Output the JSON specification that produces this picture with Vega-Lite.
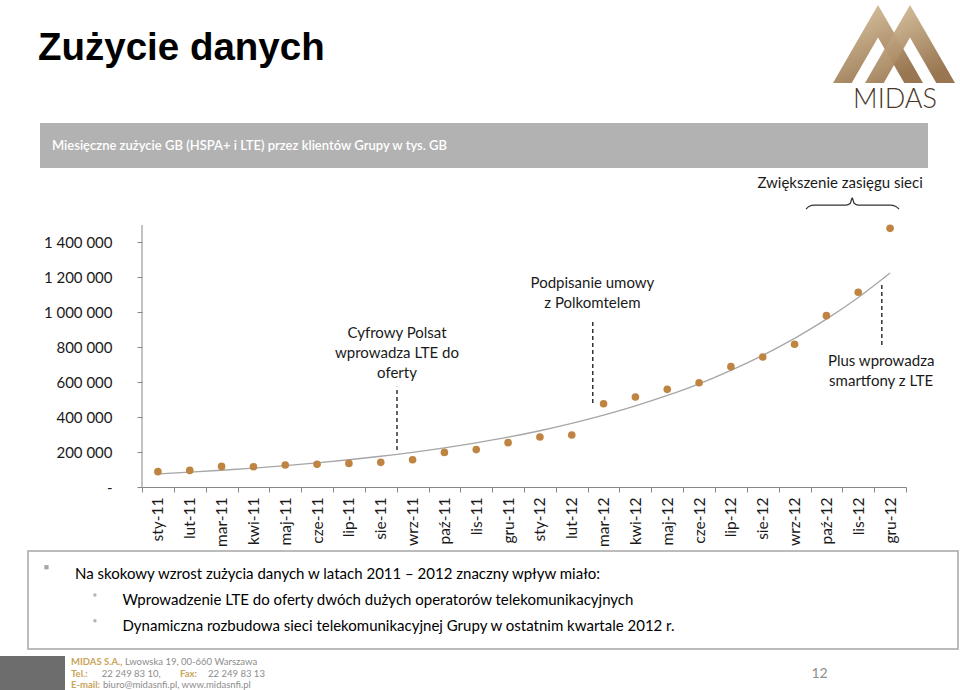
{
  "$schema": "https://vega.github.io/schema/vega-lite/v6.json",
  "padding": 0,
  "autosize": {"type": "pad"},
  "background": "white",
  "spacing": 0,
  "config": {
    "view": {"stroke": null},
    "font": "Lato",
    "locale": {"number": {"decimal": ",", "thousands": " ", "grouping": [3], "currency": ["", " zł"]}}
  },
  "vconcat": [
    {
      "hconcat": [
        {
          "width": 833, "height": 123,
          "view": {"fill": "white"},
          "data": {"values": [{"t": "Zużycie danych", "x": 0, "y": 0}]},
          "mark": {"type": "text", "align": "left", "baseline": "alphabetic", "font": "Liberation Sans", "fontWeight": "bold", "fontSize": 38.5, "color": "#000000", "dx": 38, "dy": -63},
          "encoding": {
            "x": {"field": "x", "type": "quantitative", "scale": {"domain": [0, 1], "nice": false}, "axis": null},
            "y": {"field": "y", "type": "quantitative", "scale": {"domain": [0, 1], "nice": false}, "axis": null},
            "text": {"field": "t"}
          }
        },
        {
          "width": 127, "height": 123,
          "view": {"fill": "white"},
          "layer": [
            {
              "data": {"values": [
                {"s": 1, "x": 0, "yt": 83, "yb": 83},
                {"s": 1, "x": 18.7, "yt": 50.6, "yb": 83},
                {"s": 1, "x": 45, "yt": 5, "yb": 37.4},
                {"s": 1, "x": 71.3, "yt": 50.6, "yb": 83},
                {"s": 1, "x": 90, "yt": 83, "yb": 83},
                {"s": 2, "x": 32, "yt": 83, "yb": 83},
                {"s": 2, "x": 50.7, "yt": 50.6, "yb": 83},
                {"s": 2, "x": 77, "yt": 5, "yb": 37.4},
                {"s": 2, "x": 103.3, "yt": 50.6, "yb": 83},
                {"s": 2, "x": 122, "yt": 83, "yb": 83}
              ]},
              "mark": {"type": "area", "opacity": 0.95, "color": {"gradient": "linear", "x1": 0, "y1": 0, "x2": 0.6, "y2": 1, "stops": [{"offset": 0, "color": "#e0cba8"}, {"offset": 1, "color": "#936f48"}]}},
              "encoding": {
                "x": {"field": "x", "type": "quantitative", "scale": {"domain": [0, 127], "nice": false, "zero": false}, "axis": null},
                "y": {"field": "yt", "type": "quantitative", "scale": {"domain": [0, 123], "reverse": true, "nice": false}, "axis": null},
                "y2": {"field": "yb"},
                "detail": {"field": "s"}
              }
            },
            {
              "data": {"values": [{"t": "MIDAS", "x": 62, "y": 108}]},
              "mark": {"type": "text", "align": "center", "baseline": "alphabetic", "font": "Lato", "fontWeight": 300, "fontSize": 27, "color": "#4a3527"},
              "encoding": {
                "x": {"field": "x", "type": "quantitative", "scale": {"domain": [0, 127], "nice": false, "zero": false}, "axis": null},
                "y": {"field": "y", "type": "quantitative", "scale": {"domain": [0, 123], "reverse": true, "nice": false}, "axis": null},
                "text": {"field": "t"}
              }
            }
          ]
        }
      ],
      "spacing": 0,
      "bounds": "flush"
    },
    {
      "hconcat": [
        {"width": 40, "height": 45, "view": {"fill": "white"}, "data": {"values": []}, "mark": "point"},
        {
          "width": 888, "height": 45,
          "view": {"fill": "#b2b2b2"},
          "data": {"values": [{"t": "Miesięczne zużycie GB (HSPA+ i LTE) przez klientów Grupy w tys. GB", "x": 0, "y": 0.5}]},
          "mark": {"type": "text", "align": "left", "baseline": "middle", "dx": 12, "fontSize": 13, "font": "Lato", "fontWeight": 600, "color": "#ffffff"},
          "encoding": {
            "x": {"field": "x", "type": "quantitative", "scale": {"domain": [0, 1], "nice": false}, "axis": null},
            "y": {"field": "y", "type": "quantitative", "scale": {"domain": [0, 1], "nice": false}, "axis": null},
            "text": {"field": "t"}
          }
        }
      ],
      "spacing": 0,
      "bounds": "flush"
    },
    {
      "hconcat": [
        {"width": 142, "height": 382, "view": {"fill": "white"}, "data": {"values": []}, "mark": "point"},
        {
          "width": 764, "height": 319,
          "layer": [
            {
              "data": {"values": [
                {"m": "sty-11", "v": 88000, "t": 75000},
                {"m": "lut-11", "v": 95000, "t": 85000},
                {"m": "mar-11", "v": 118000, "t": 96000},
                {"m": "kwi-11", "v": 116000, "t": 108000},
                {"m": "maj-11", "v": 126000, "t": 122000},
                {"m": "cze-11", "v": 130000, "t": 138000},
                {"m": "lip-11", "v": 135000, "t": 156000},
                {"m": "sie-11", "v": 141000, "t": 176000},
                {"m": "wrz-11", "v": 156000, "t": 198000},
                {"m": "paź-11", "v": 198000, "t": 224000},
                {"m": "lis-11", "v": 214000, "t": 253000},
                {"m": "gru-11", "v": 254000, "t": 285000},
                {"m": "sty-12", "v": 286000, "t": 322000},
                {"m": "lut-12", "v": 298000, "t": 364000},
                {"m": "mar-12", "v": 477000, "t": 411000},
                {"m": "kwi-12", "v": 515000, "t": 464000},
                {"m": "maj-12", "v": 559000, "t": 524000},
                {"m": "cze-12", "v": 597000, "t": 591000},
                {"m": "lip-12", "v": 689000, "t": 668000},
                {"m": "sie-12", "v": 744000, "t": 754000},
                {"m": "wrz-12", "v": 817000, "t": 851000},
                {"m": "paź-12", "v": 981000, "t": 961000},
                {"m": "lis-12", "v": 1115000, "t": 1085000},
                {"m": "gru-12", "v": 1481000, "t": 1225000}
              ]},
              "layer": [
                {
                  "mark": {"type": "line", "color": "#a6a6a6", "strokeWidth": 1.3, "interpolate": "monotone"},
                  "encoding": {
                    "x": {"field": "m", "type": "nominal", "sort": null, "bandPosition": 0.5, "title": null,
                          "scale": {"type": "band", "paddingInner": 0, "paddingOuter": 0},
                          "axis": {"labelAngle": -90, "tickBand": "extent", "tickSize": 5, "labelPadding": 5, "labelFontSize": 15.5, "labelFont": "Lato", "labelColor": "#1a1a1a", "domainColor": "#868686", "tickColor": "#868686", "grid": false, "title": null}},
                    "y": {"field": "t", "type": "quantitative", "title": null,
                          "scale": {"domain": [0, 1826336], "nice": false},
                          "axis": {"values": [0, 200000, 400000, 600000, 800000, 1000000, 1200000, 1400000], "format": ",d", "labelExpr": "datum.value === 0 ? '-' : datum.label", "domain": false, "tickSize": 5, "labelPadding": 25, "grid": false, "labelFontSize": 15, "labelFont": "Lato", "labelColor": "#1a1a1a", "tickColor": "#868686", "title": null}}
                  }
                },
                {
                  "mark": {"type": "circle", "color": "#bf8442", "size": 58, "opacity": 1},
                  "encoding": {
                    "x": {"field": "m", "type": "nominal", "sort": null, "bandPosition": 0.5, "title": null,
                          "scale": {"type": "band", "paddingInner": 0, "paddingOuter": 0}},
                    "y": {"field": "v", "type": "quantitative", "title": null, "scale": {"domain": [0, 1826336], "nice": false}}
                  }
                }
              ]
            },
            {
              "data": {"values": [{"p": -0.5, "a": 0, "b": 1500000}]},
              "mark": {"type": "rule", "color": "#868686", "strokeWidth": 1},
              "encoding": {
                "x": {"field": "p", "type": "quantitative", "scale": {"domain": [-0.5, 23.5], "nice": false, "zero": false}, "axis": null},
                "y": {"field": "a", "type": "quantitative", "title": null, "scale": {"domain": [0, 1826336], "nice": false}},
                "y2": {"field": "b"}
              }
            },
            {
              "data": {"values": [
                {"p": 7.51, "a": 212000, "b": 574000},
                {"p": 13.66, "a": 481000, "b": 956000},
                {"p": 22.74, "a": 813000, "b": 1162000}
              ]},
              "mark": {"type": "rule", "color": "#333333", "strokeWidth": 1.5, "strokeDash": [4, 3]},
              "encoding": {
                "x": {"field": "p", "type": "quantitative", "scale": {"domain": [-0.5, 23.5], "nice": false, "zero": false}, "axis": null},
                "y": {"field": "a", "type": "quantitative", "title": null, "scale": {"domain": [0, 1826336], "nice": false}},
                "y2": {"field": "b"}
              }
            },
            {
              "data": {"values": [
                {"p": 7.51, "y": 881000, "t": ["Cyfrowy Polsat", "wprowadza LTE do", "oferty"]},
                {"p": 13.65, "y": 1167000, "t": ["Podpisanie umowy", "z Polkomtelem"]},
                {"p": 22.72, "y": 721000, "t": ["Plus wprowadza", "smartfony z LTE"]},
                {"p": 21.43, "y": 1740000, "t": ["Zwiększenie zasięgu sieci"]}
              ]},
              "mark": {"type": "text", "align": "center", "baseline": "middle", "fontSize": 15, "lineHeight": 19.7, "color": "#1a1a1a", "font": "Lato"},
              "encoding": {
                "x": {"field": "p", "type": "quantitative", "scale": {"domain": [-0.5, 23.5], "nice": false, "zero": false}, "axis": null},
                "y": {"field": "y", "type": "quantitative", "title": null, "scale": {"domain": [0, 1826336], "nice": false}},
                "text": {"field": "t"}
              }
            },
            {
              "data": {"values": [
                {"p": 20.36, "y": 1591000},
                {"p": 20.45, "y": 1606000},
                {"p": 20.62, "y": 1614000},
                {"p": 21.62, "y": 1614000},
                {"p": 21.75, "y": 1625000},
                {"p": 21.81, "y": 1655000},
                {"p": 21.87, "y": 1625000},
                {"p": 22.0, "y": 1614000},
                {"p": 23.0, "y": 1614000},
                {"p": 23.18, "y": 1606000},
                {"p": 23.28, "y": 1591000}
              ]},
              "mark": {"type": "line", "color": "#333333", "strokeWidth": 1.3, "interpolate": "monotone"},
              "encoding": {
                "x": {"field": "p", "type": "quantitative", "scale": {"domain": [-0.5, 23.5], "nice": false, "zero": false}, "axis": null},
                "y": {"field": "y", "type": "quantitative", "title": null, "scale": {"domain": [0, 1826336], "nice": false}}
              }
            }
          ],
          "resolve": {"scale": {"x": "independent"}}
        }
      ],
      "spacing": 0,
      "bounds": "flush"
    },
    {
      "hconcat": [
        {"width": 28, "height": 105, "view": {"fill": "white"}, "data": {"values": []}, "mark": "point"},
        {
          "width": 930, "height": 98,
          "view": {"fill": "white", "stroke": "#a6a6a6", "strokeWidth": 1.5},
          "layer": [
            {
              "data": {"values": [
                {"r": 1, "lvl": 0, "t": "Na skokowy wzrost zużycia danych w latach 2011 – 2012 znaczny wpływ miało:"},
                {"r": 2, "lvl": 1, "t": "Wprowadzenie LTE do oferty dwóch dużych operatorów telekomunikacyjnych"},
                {"r": 3, "lvl": 1, "t": "Dynamiczna rozbudowa sieci telekomunikacyjnej Grupy w ostatnim kwartale 2012 r."}
              ]},
              "mark": {"type": "text", "align": "left", "baseline": "middle", "fontSize": 15, "font": "Lato", "color": "#000000"},
              "encoding": {
                "x": {"field": "lvl", "type": "quantitative", "scale": {"domain": [-0.989, 18.59], "nice": false, "zero": false}, "axis": null},
                "y": {"field": "r", "type": "ordinal", "scale": {"type": "band", "paddingInner": 0, "paddingOuter": 0.4}, "axis": null},
                "text": {"field": "t"}
              }
            },
            {
              "data": {"values": [{"r": 1, "b": -0.6}]},
              "mark": {"type": "square", "color": "#a6a6a6", "size": 18, "opacity": 1, "filled": true, "yOffset": -7},
              "encoding": {
                "x": {"field": "b", "type": "quantitative", "scale": {"domain": [-0.989, 18.59], "nice": false, "zero": false}, "axis": null},
                "y": {"field": "r", "type": "ordinal", "scale": {"type": "band", "paddingInner": 0, "paddingOuter": 0.4}, "axis": null}
              }
            },
            {
              "data": {"values": [{"r": 2, "b": 0.42}, {"r": 3, "b": 0.42}]},
              "mark": {"type": "circle", "color": "#b3b3b3", "size": 12, "opacity": 1, "yOffset": -5},
              "encoding": {
                "x": {"field": "b", "type": "quantitative", "scale": {"domain": [-0.989, 18.59], "nice": false, "zero": false}, "axis": null},
                "y": {"field": "r", "type": "ordinal", "scale": {"type": "band", "paddingInner": 0, "paddingOuter": 0.4}, "axis": null}
              }
            }
          ]
        }
      ],
      "spacing": 0,
      "bounds": "flush"
    },
    {
      "hconcat": [
        {"width": 65, "height": 35, "view": {"fill": "#6d6d6d"}, "data": {"values": []}, "mark": "point"},
        {
          "width": 895, "height": 35,
          "view": {"fill": "white"},
          "layer": [
            {
              "data": {"values": [
                {"l": 1, "x": 6, "t": "MIDAS S.A.,"},
                {"l": 2, "x": 6, "t": "Tel.:"},
                {"l": 2, "x": 115, "t": "Fax:"},
                {"l": 3, "x": 6, "t": "E-mail:"}
              ]},
              "mark": {"type": "text", "align": "left", "baseline": "middle", "fontSize": 9.5, "font": "Lato", "fontWeight": "bold", "color": "#c9a45c"},
              "encoding": {
                "x": {"field": "x", "type": "quantitative", "scale": {"domain": [0, 895], "nice": false, "zero": false}, "axis": null},
                "y": {"field": "l", "type": "ordinal", "scale": {"type": "band", "paddingInner": 0, "paddingOuter": 0}, "axis": null},
                "text": {"field": "t"}
              }
            },
            {
              "data": {"values": [
                {"l": 1, "x": 60, "t": "Lwowska 19, 00-660 Warszawa"},
                {"l": 2, "x": 36.7, "t": "22 249 83 10,"},
                {"l": 2, "x": 143, "t": "22 249 83 13"},
                {"l": 3, "x": 38, "t": "biuro@midasnfi.pl, www.midasnfi.pl"}
              ]},
              "mark": {"type": "text", "align": "left", "baseline": "middle", "fontSize": 9.5, "font": "Lato", "color": "#8c8c8c"},
              "encoding": {
                "x": {"field": "x", "type": "quantitative", "scale": {"domain": [0, 895], "nice": false, "zero": false}, "axis": null},
                "y": {"field": "l", "type": "ordinal", "scale": {"type": "band", "paddingInner": 0, "paddingOuter": 0}, "axis": null},
                "text": {"field": "t"}
              }
            },
            {
              "data": {"values": [{"l": 2, "x": 754.5, "t": "12"}]},
              "mark": {"type": "text", "align": "center", "baseline": "middle", "fontSize": 14, "font": "Lato", "color": "#8c8c8c"},
              "encoding": {
                "x": {"field": "x", "type": "quantitative", "scale": {"domain": [0, 895], "nice": false, "zero": false}, "axis": null},
                "y": {"field": "l", "type": "ordinal", "scale": {"type": "band", "paddingInner": 0, "paddingOuter": 0}, "axis": null},
                "text": {"field": "t"}
              }
            }
          ]
        }
      ],
      "spacing": 0,
      "bounds": "flush"
    }
  ]
}
